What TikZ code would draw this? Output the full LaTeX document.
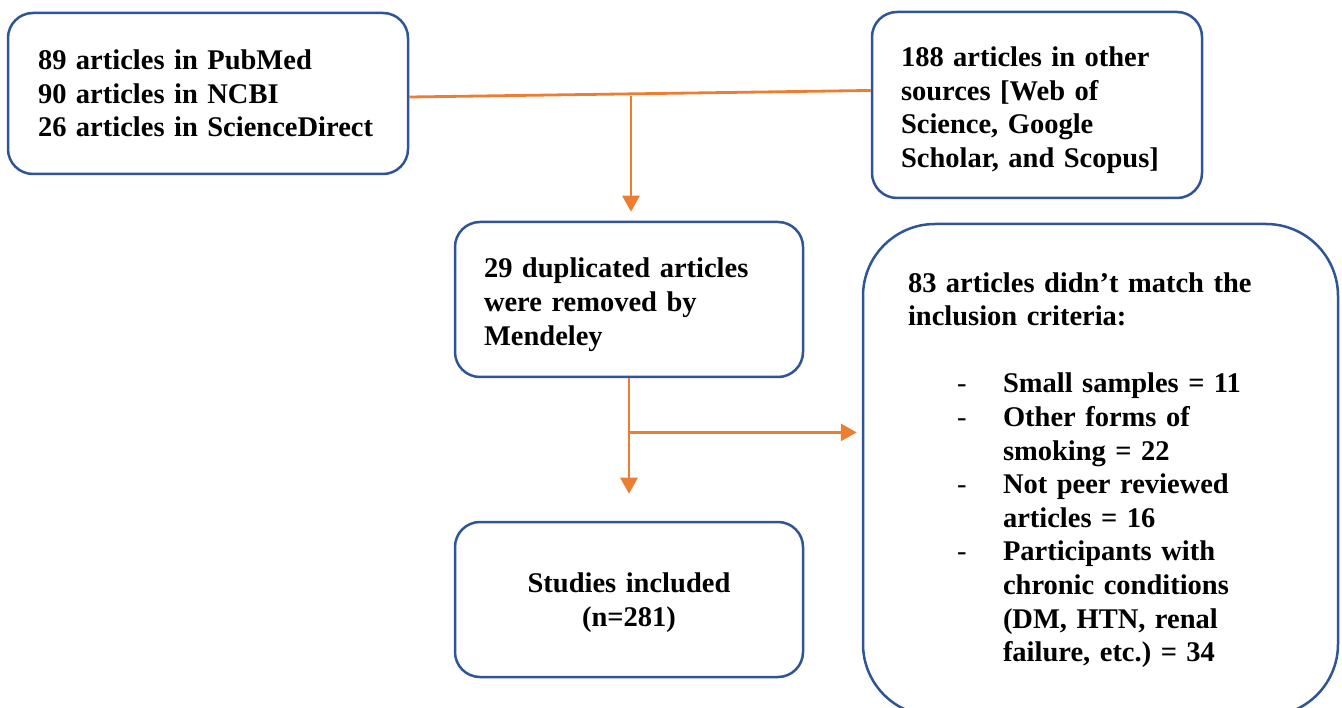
\documentclass[tikz,border=0pt]{standalone}
\usepackage{fontspec}
\setmainfont{Liberation Serif}
\usetikzlibrary{arrows.meta,calc}
\definecolor{boxblue}{HTML}{2F5597}
\definecolor{flow}{HTML}{ED7D31}
\hyphenpenalty=10000
\frenchspacing
\newcommand{\critdash}{\hspace*{49pt}\makebox[46pt][l]{\mdseries -}}
\newcommand{\critcont}{\hspace*{95pt}}
\begin{document}
\begin{tikzpicture}[x=1pt,y=-1pt,
  box/.style={draw=boxblue,line width=2.5pt,rounded corners=25pt,align=left,
    inner ysep=0pt,font=\fontsize{28.5}{33.6}\selectfont\bfseries},
  flowline/.style={draw=flow,line width=2.8pt},
  flowarrow/.style={flowline,-{Triangle[width=17pt,length=16pt]}}]
  \clip (0,0) rectangle (1342,708);

  % Sources
  \node[box,text width=340pt,inner xsep=30pt,minimum height=161pt] (pubmed) at (208,93.5)
    {89 articles in PubMed\\90 articles in NCBI\\26 articles in ScienceDirect};
  \node[box,text width=272pt,inner xsep=29pt,minimum height=186pt] (other) at (1037,105)
    {\rule{0pt}{30pt}188 articles in other\\sources [Web of\\Science, Google\\Scholar, and Scopus]};

  % Screening
  \node[box,text width=290pt,inner xsep=29pt,minimum height=155pt] (dup) at (629,299.5)
    {\rule{0pt}{30pt}29 duplicated articles\\were removed by\\Mendeley};
  \node[box,align=center,text width=290pt,inner xsep=29pt,minimum height=155pt] (incl) at (629,599.5)
    {\rule{0pt}{26pt}Studies included\\(n=281)};

  % Exclusions
  \node[box,rounded corners=72pt,text width=385pt,inner xsep=45pt,minimum height=492pt] (excl) at (1100.5,470)
    {83 articles didn’t match the\\inclusion criteria:\\[33.6pt]
     \critdash Small samples = 11\\
     \critdash Other forms of\\
     \critcont smoking = 22\\
     \critdash Not peer reviewed\\
     \critcont articles = 16\\
     \critdash Participants with\\
     \critcont chronic conditions\\
     \critcont (DM, HTN, renal\\
     \critcont failure, etc.) = 34};

  % Flow
  \coordinate (split) at (631,96);
  \draw[flowline] (pubmed.-1) -- (other.175.5);
  \draw[flowarrow,shorten >=9pt] (split) -- (split |- dup.north);
  \coordinate (branch) at ($(dup.south)!0.38!(incl.north)$);
  \draw[flowarrow,shorten >=27pt] (dup.south) -- (incl.north);
  \draw[flowarrow,shorten >=5pt] (branch) -- (branch -| excl.west);
\end{tikzpicture}
\end{document}
